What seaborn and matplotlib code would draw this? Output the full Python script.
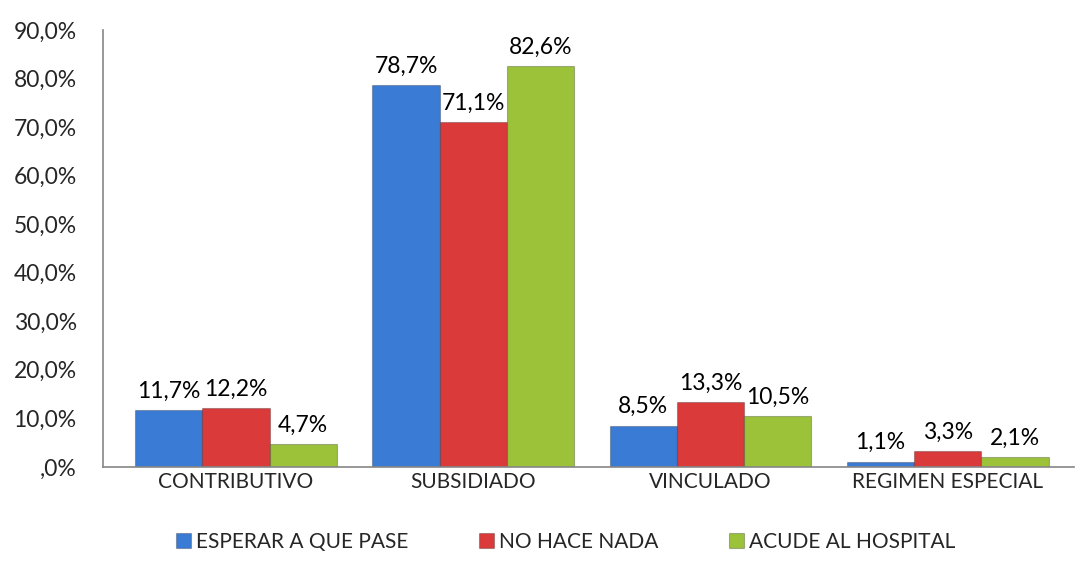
import matplotlib
matplotlib.use('Agg')
import matplotlib.pyplot as plt
import seaborn as sns
import pandas as pd

categories = ['CONTRIBUTIVO', 'SUBSIDIADO', 'VINCULADO', 'REGIMEN ESPECIAL']
series = ['ESPERAR A QUE PASE', 'NO HACE NADA', 'ACUDE AL HOSPITAL']
esperar = [11.7, 78.7, 8.5, 1.1]
no_hace = [12.2, 71.1, 13.3, 3.3]
acude = [4.7, 82.6, 10.5, 2.1]
y_ticks = [0, 10, 20, 30, 40, 50, 60, 70, 80, 90]

colors = ['#3A7BD5', '#DA3A3A', '#9CC23A']

rows = []
for name, vals in zip(series, [esperar, no_hace, acude]):
    for cat, v in zip(categories, vals):
        rows.append({'categoria': cat, 'serie': name, 'valor': v})
df = pd.DataFrame(rows)

sns.set_style('white')
plt.rcParams['font.family'] = ['Lato', 'DejaVu Sans']
fs = 15
fs_num = 16.5

fig = plt.figure(figsize=(10.88, 5.68), dpi=100)
ax = fig.add_axes([0.0947, 0.178, 0.892, 0.769])

sns.barplot(data=df, x='categoria', y='valor', hue='serie', order=categories,
            hue_order=series, palette=colors, saturation=1, width=0.85, ax=ax,
            edgecolor='#00000040', linewidth=0.8, errorbar=None)

for cont in ax.containers:
    labels = [f'{b.get_height():.1f}%'.replace('.', ',') for b in cont]
    ax.bar_label(cont, labels=labels, padding=6, fontsize=fs_num, color='black')

ax.set_ylim(0, 90)
ax.set_xlim(-0.56, 3.53)
ax.set_yticks(y_ticks)
ax.set_yticklabels([(f'{t:.1f}%'.replace('.', ',') if t else ',0%') for t in y_ticks])
ax.tick_params(axis='y', length=0, pad=19, labelsize=fs_num)
ax.tick_params(axis='x', length=0, pad=4, labelsize=fs)
ax.set_xlabel('')
ax.set_ylabel('')

for s in ['top', 'right']:
    ax.spines[s].set_visible(False)
ax.spines['left'].set_color('#868686')
ax.spines['bottom'].set_color('#868686')
ax.spines['left'].set_linewidth(1.2)
ax.spines['bottom'].set_linewidth(1.2)

ax.legend(loc='upper center', bbox_to_anchor=(0.477, -0.105), ncol=3, frameon=False,
          fontsize=fs, handlelength=0.7, handleheight=0.7, handletextpad=0.25,
          columnspacing=3.4)

fig.savefig('out.png', dpi=100)
